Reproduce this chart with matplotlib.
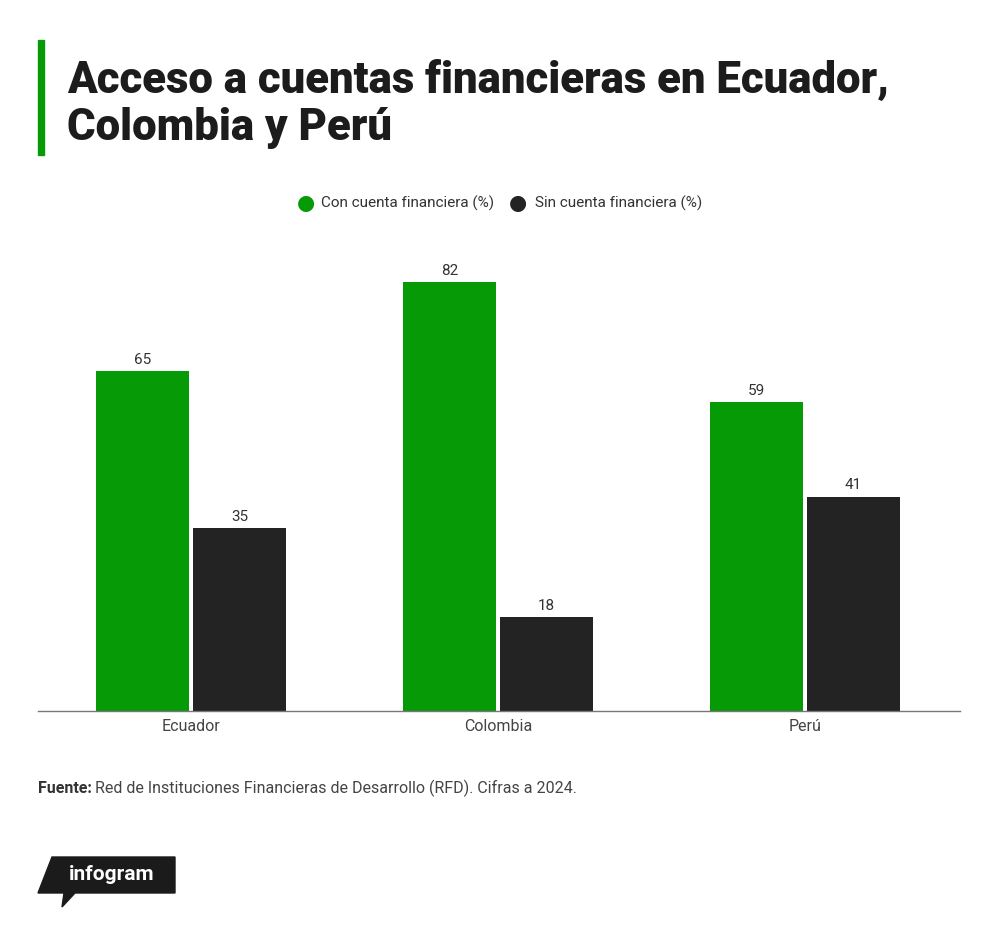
import matplotlib
matplotlib.use("Agg")
import matplotlib.pyplot as plt
from matplotlib.patches import Rectangle, Polygon
import numpy as np

categories = ["Ecuador", "Colombia", "Perú"]
con_cuenta = [65, 82, 59]
sin_cuenta = [35, 18, 41]
series_names = ["Con cuenta financiera (%)", "Sin cuenta financiera (%)"]
title = "Acceso a cuentas financieras en Ecuador,\nColombia y Perú"
source_bold = "Fuente:"
source_text = "Red de Instituciones Financieras de Desarrollo (RFD). Cifras a 2024."

GREEN = "#079a07"
BLACK = "#232323"

W, H = 1000, 926
fig = plt.figure(figsize=(W / 100, H / 100), dpi=100)
fig.patch.set_facecolor("white")

def fx(px):
    return px / W

def fy(py):
    return 1 - py / H

# axes
ax_left, ax_right, ax_top, ax_bottom = 38, 960, 240, 711
ax = fig.add_axes([fx(ax_left), fy(ax_bottom), fx(ax_right - ax_left), (ax_bottom - ax_top) / H])
x = np.arange(len(categories))
bw = 0.303
off = 0.158
b1 = ax.bar(x - off, con_cuenta, bw, color=GREEN, zorder=2)
b2 = ax.bar(x + off, sin_cuenta, bw, color=BLACK, zorder=2)
ax.set_xlim(-0.498, 2.505)
ax.set_ylim(0, (ax_bottom - ax_top) / 5.23)
for bars, vals in ((b1, con_cuenta), (b2, sin_cuenta)):
    for r, v in zip(bars, vals):
        ax.annotate(f"{v}", (r.get_x() + r.get_width() / 2, v), xytext=(0, 3),
                    textcoords="offset points", ha="center", va="bottom",
                    fontsize=11, color="#333333", family="Roboto")
for s in ("top", "right", "left"):
    ax.spines[s].set_visible(False)
ax.spines["bottom"].set_color("#777777")
ax.spines["bottom"].set_linewidth(1.0)
ax.set_yticks([])
ax.set_xticks(x)
ax.set_xticklabels(categories, fontsize=11.5, color="#444444", family="Roboto")
ax.tick_params(axis="x", length=0, pad=6)

# title accent bar
fig.patches.append(Rectangle((fx(38), fy(155)), fx(6), (155 - 40) / H,
                             transform=fig.transFigure, color=GREEN))
fig.text(fx(67), fy(60), title, fontsize=31.5, fontweight="heavy", family="Roboto",
         color="#1c1c1c", va="top", ha="left", linespacing=1.15)

# legend
for cx, col, name, tx in ((306, GREEN, series_names[0], 321), (518, BLACK, series_names[1], 535)):
    fig.text(fx(cx), fy(203), "\u25CF", fontsize=15, color=col, ha="center", va="center",
             family="DejaVu Sans")
    fig.text(fx(tx), fy(203), name, fontsize=11, color="#333333", ha="left", va="center",
             family="Roboto")

# source
t = fig.text(fx(38), fy(793), source_bold, fontsize=11.5, fontweight="bold", color="#333333",
             family="Roboto", va="baseline", ha="left")
fig.canvas.draw()
bb = t.get_window_extent()
fig.text(bb.x1 / W + fx(3), fy(793), source_text, fontsize=11.5, color="#444444",
         family="Roboto", va="baseline", ha="left")

# infogram logo
logo = Polygon([(fx(52), fy(857)), (fx(175), fy(857)), (fx(175), fy(893)), (fx(75), fy(893)),
                (fx(62), fy(907)), (fx(64), fy(893)), (fx(38), fy(893))],
               closed=True, transform=fig.transFigure, color="#1b1b1b")
fig.patches.append(logo)
fig.text(fx(112), fy(875), "infogram", fontsize=15, fontweight="bold", color="white",
         family="Roboto", ha="center", va="center", fontstretch="condensed")

fig.savefig("out.png", dpi=100, facecolor="white")
